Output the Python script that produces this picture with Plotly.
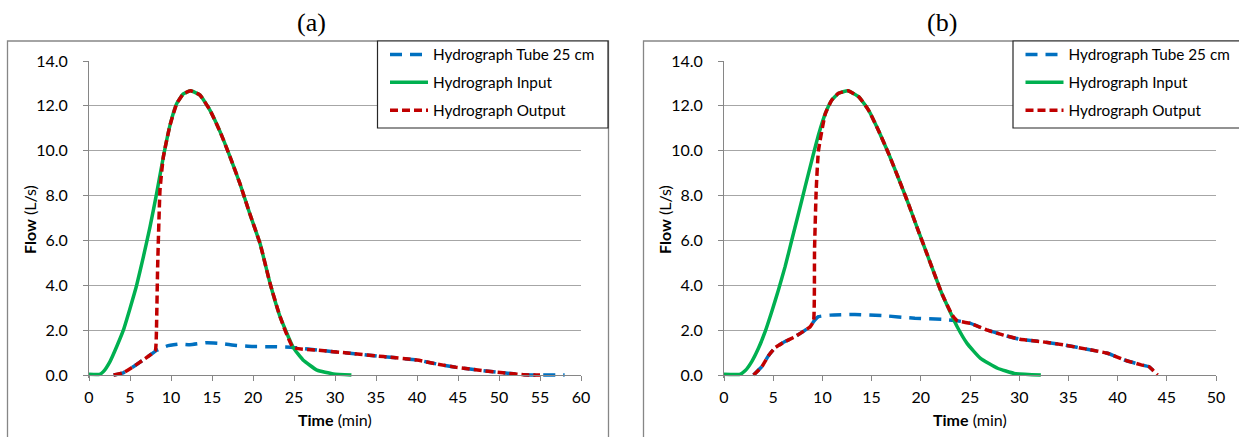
import plotly.graph_objects as go

# ---------------- data ----------------
# Panel (a)
ta_input = [0, 1.3, 1.75, 2.56, 3.37, 4.19, 5.0, 5.81, 6.63, 7.44, 8.25, 9.07, 9.88, 10.7, 11.5, 12.4,
            13.54, 14.76, 15.98, 17.2, 18.4, 19.6, 20.85, 22.07, 23.3, 24.9, 26.1, 27.8, 29.8, 32.0]
qa_input = [0.03, 0.03, 0.15, 0.6, 1.26, 2.0, 2.97, 4.0, 5.27, 6.6, 8.1, 9.73, 11.14, 12.1, 12.53, 12.67,
            12.48, 11.8, 10.85, 9.73, 8.54, 7.2, 5.87, 4.1, 2.6, 1.23, 0.67, 0.22, 0.05, 0.0]

ta_tube = [3.0, 4.19, 5.4, 6.6, 7.64, 8.25, 9.47, 11.1, 12.3, 14.35, 16.0, 18.0, 20.0, 22.5, 24.9,
           27.8, 31.8, 35.9, 40.0, 42.4, 44.8, 48.1, 50.5, 53.0, 55.0, 58.0]
qa_tube = [0.0, 0.1, 0.37, 0.67, 0.94, 1.1, 1.29, 1.38, 1.35, 1.44, 1.41, 1.32, 1.27, 1.26, 1.23,
           1.11, 0.97, 0.82, 0.67, 0.49, 0.34, 0.19, 0.1, 0.01, 0.0, 0.0]

ta_output = [3.0, 4.19, 5.4, 6.6, 7.64, 8.1, 8.2, 8.37, 8.66, 9.07, 9.88, 10.7, 11.5, 12.4, 13.54, 14.76,
             15.98, 17.2, 18.4, 19.6, 20.85, 22.07, 23.3, 24.9, 27.8, 31.8, 35.9, 40.0, 42.4, 44.8,
             48.1, 50.5, 53.0, 55.0]
qa_output = [0.0, 0.1, 0.37, 0.67, 0.94, 1.1, 1.6, 4.8, 8.25, 9.73, 11.14, 12.1, 12.53, 12.67, 12.48, 11.8,
             10.85, 9.73, 8.54, 7.2, 5.87, 4.1, 2.6, 1.23, 1.11, 0.97, 0.82, 0.67, 0.49, 0.34,
             0.19, 0.1, 0.01, 0.0]

# Panel (b)
tb_input = [0, 1.6, 2.14, 2.82, 3.5, 4.18, 4.85, 5.53, 6.21, 6.89, 7.57, 8.25, 8.93, 9.6, 10.3, 10.96,
            11.64, 12.6, 13.7, 14.7, 15.7, 16.7, 17.75, 18.77, 19.6, 20.5, 22.17, 23.0, 23.7, 24.7,
            26.07, 27.8, 29.5, 32.2]
qb_input = [0.03, 0.03, 0.19, 0.6, 1.19, 1.93, 2.82, 3.79, 4.83, 6.02, 7.2, 8.4, 9.58, 10.7, 11.66, 12.26,
            12.56, 12.67, 12.4, 11.8, 10.9, 9.9, 8.75, 7.6, 6.6, 5.55, 3.6, 2.8, 2.15, 1.41,
            0.74, 0.3, 0.07, 0.0]

tb_tube = [3.0, 3.84, 4.5, 5.2, 6.2, 7.23, 8.25, 8.76, 9.1, 9.6, 10.8, 13.3, 16.05, 19.4, 22.2, 23.7,
           25.05, 26.75, 28.4, 30.1, 32.2, 34.55, 36.9, 38.97, 40.7, 42.4, 43.2, 44.06]
qb_tube = [0.0, 0.37, 0.85, 1.22, 1.49, 1.71, 2.0, 2.15, 2.38, 2.6, 2.67, 2.7, 2.65, 2.53, 2.48, 2.42,
           2.3, 2.0, 1.78, 1.59, 1.49, 1.34, 1.15, 0.97, 0.67, 0.45, 0.37, 0.0]

tb_output = [3.0, 3.84, 4.5, 5.2, 6.2, 7.23, 8.25, 8.76, 9.1, 9.2, 9.37, 9.6, 10.3, 10.96, 11.64, 12.6,
             13.7, 14.7, 15.7, 16.7, 17.75, 18.77, 19.6, 20.5, 22.17, 23.2, 23.7, 25.05, 26.75, 28.4,
             30.1, 32.2, 34.55, 36.9, 38.97, 40.7, 42.4, 43.2, 44.06]
qb_output = [0.0, 0.37, 0.85, 1.22, 1.49, 1.71, 2.0, 2.15, 2.4, 5.57, 8.25, 10.0, 11.66, 12.26, 12.56, 12.67,
             12.4, 11.8, 10.9, 9.9, 8.75, 7.6, 6.6, 5.55, 3.6, 2.67, 2.42, 2.3, 2.0, 1.78,
             1.59, 1.49, 1.34, 1.15, 0.97, 0.67, 0.45, 0.37, 0.0]

series_names = ["Hydrograph Tube 25 cm", "Hydrograph Input", "Hydrograph Output"]
panel_titles = ["(a)", "(b)"]
x_ranges = [60, 50]
y_ticks = [0, 2, 4, 6, 8, 10, 12, 14]

# ---------------- styling ----------------
W, H = 1239, 437
def fx(p): return p / W
def fy(p): return 1 - p / H

BLUE, GREEN, RED = "#0070C0", "#00B050", "#C00000"
FONT = "Lato"
GRID = "#A6A6A6"
AX = "#868686"

fig = go.Figure()

panels = [
    (ta_tube, qa_tube, ta_input, qa_input, ta_output, qa_output, "x", "y", "legend", "a"),
    (tb_tube, qb_tube, tb_input, qb_input, tb_output, qb_output, "x2", "y2", "legend2", "b"),
]
for (tt, qt, ti, qi, to, qo, xa, ya, lg, tag) in panels:
    fig.add_trace(go.Scatter(x=tt, y=qt, mode="lines", name=series_names[0], xaxis=xa, yaxis=ya,
                             legend=lg, legendgroup=tag + "1",
                             line=dict(color=BLUE, width=3.5, dash="12px,8px", shape="spline", smoothing=0.4)))
    fig.add_trace(go.Scatter(x=ti, y=qi, mode="lines", name=series_names[1], xaxis=xa, yaxis=ya,
                             legend=lg, legendgroup=tag + "2",
                             line=dict(color=GREEN, width=3.5, shape="spline", smoothing=0.4)))
    fig.add_trace(go.Scatter(x=to, y=qo, mode="lines", name=series_names[2], xaxis=xa, yaxis=ya,
                             legend=lg, legendgroup=tag + "3",
                             line=dict(color=RED, width=3.5, dash="8px,4px", shape="spline", smoothing=0.4)))

ydom = [fy(378.4), fy(61)]
y_low = -(378.4 - 375) / (314 / 14)

def xaxis_cfg(dom, rng):
    return dict(domain=dom, range=[0, rng], dtick=5, tick0=0, showgrid=False, zeroline=False,
                showline=True, linecolor=AX, linewidth=1, ticks="outside", ticklen=5, tickcolor=AX,
                tickfont=dict(family=FONT, size=16, color="black"), anchor="free", position=fy(375),
                ticklabelstandoff=3, automargin=False)

def yaxis_cfg(anchor):
    return dict(domain=ydom, range=[y_low, 14], tickvals=y_ticks, tickformat=".1f", showgrid=True,
                gridcolor=GRID, gridwidth=1, zeroline=False, showline=True, linecolor=AX, linewidth=1,
                ticks="outside", ticklen=5, tickcolor=AX, anchor=anchor, automargin=False,
                tickfont=dict(family=FONT, size=16, color="black"), ticklabelstandoff=12)

legend_common = dict(bgcolor="rgba(0,0,0,0)", borderwidth=0, font=dict(family=FONT, size=15.3, color="black"),
                     itemwidth=38, tracegroupgap=5, xanchor="left", yanchor="top", orientation="v")

fig.update_layout(
    width=W, height=H, margin=dict(l=0, r=0, t=0, b=0, autoexpand=False),
    paper_bgcolor="white", plot_bgcolor="white",
    xaxis=xaxis_cfg([fx(89), fx(581)], x_ranges[0]),
    yaxis=yaxis_cfg("x"),
    xaxis2=xaxis_cfg([fx(724), fx(1216)], x_ranges[1]),
    yaxis2=yaxis_cfg("x2"),
    legend=dict(x=fx(385), y=fy(38), **legend_common),
    legend2=dict(x=fx(1020.5), y=fy(38), **legend_common),
    showlegend=True,
)

def ppath(points):
    return "M " + " L ".join(f"{fx(px):.6f},{fy(py):.6f}" for px, py in points)

shapes = [
    # outer chart borders (open at the bottom / right, as cut in the reference)
    dict(type="path", xref="paper", yref="paper", path=ppath([(7.5, 437), (7.5, 41), (608.5, 41), (608.5, 437)]),
         line=dict(color=AX, width=1.3), layer="below"),
    dict(type="path", xref="paper", yref="paper", path=ppath([(643.5, 437), (643.5, 41), (1239, 41)]),
         line=dict(color=AX, width=1.3), layer="below"),
    # legend boxes
    dict(type="rect", xref="paper", yref="paper", x0=fx(377.5), x1=fx(608), y0=fy(128), y1=fy(41),
         line=dict(color="#262626", width=1.2), fillcolor="white", layer="above"),
    dict(type="rect", xref="paper", yref="paper", x0=fx(1013), x1=fx(1239), y0=fy(128), y1=fy(41),
         line=dict(width=0), fillcolor="white", layer="above"),
    dict(type="path", xref="paper", yref="paper", path=ppath([(1239, 41), (1013, 41), (1013, 128), (1239, 128)]),
         line=dict(color="#262626", width=1.2), layer="above"),
]
fig.update_layout(shapes=shapes)

annotations = []
for title, cx in zip(panel_titles, [311, 942]):
    annotations.append(dict(text=title, x=fx(cx), y=fy(23), xref="paper", yref="paper", showarrow=False,
                            xanchor="center", yanchor="middle",
                            font=dict(family="Liberation Serif", size=26, color="black")))
for cx in [29, 664]:
    annotations.append(dict(text="<b>Flow</b> (L/s)", x=fx(cx), y=fy(220), xref="paper", yref="paper",
                            showarrow=False, textangle=-90, xanchor="center", yanchor="middle",
                            font=dict(family=FONT, size=16, color="black")))
for cx in [335, 970]:
    annotations.append(dict(text="<b>Time</b> (min)", x=fx(cx), y=fy(419), xref="paper", yref="paper",
                            showarrow=False, xanchor="center", yanchor="middle",
                            font=dict(family=FONT, size=16, color="black")))
fig.update_layout(annotations=annotations)

fig.write_html("out.html", config={"displayModeBar": False},
               post_script="document.body.style.margin='0';document.body.style.overflow='hidden';")
